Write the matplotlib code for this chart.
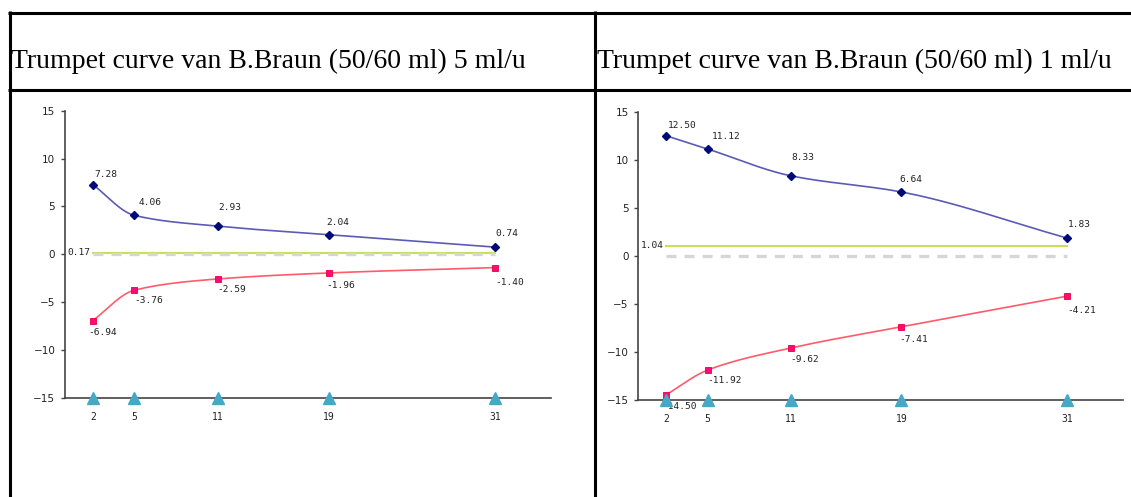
import numpy as np
import matplotlib
matplotlib.use("Agg")
import matplotlib.pyplot as plt
from matplotlib.lines import Line2D

plt.rcParams["lines.scale_dashes"] = False

# ---- data ---------------------------------------------------------------
hours = [2, 5, 11, 19, 31]
x_labels = ["2", "5", "11", "19", "31"]

titles = [
    "Trumpet curve van B.Braun (50/60 ml) 5 ml/u",
    "Trumpet curve van B.Braun (50/60 ml) 1 ml/u",
]
max_dev_5 = [7.28, 4.06, 2.93, 2.04, 0.74]
min_dev_5 = [-6.94, -3.76, -2.59, -1.96, -1.40]
mean_5 = 0.17

max_dev_1 = [12.50, 11.12, 8.33, 6.64, 1.83]
min_dev_1 = [-14.50, -11.92, -9.62, -7.41, -4.21]
mean_1 = 1.04

y_ticks = [-15, -10, -5, 0, 5, 10, 15]

# ---- layout -------------------------------------------------------------
W, H = 1131, 497
fig = plt.figure(figsize=(W / 100, H / 100), dpi=100)


def fx(px):
    return px / W


def fy(py):
    return 1 - py / H


# label offsets in pixels per point index (upper / lower series)
up_off = [(2, 10), (4, 12.5), (1, 18.5), (-2, 12), (0, 13.5)]
lo_off = [(-4, -11.5), (-0.5, -10), (0, -11), (-2, -13), (0, -14.5)]

BLUE_LINE = "#5b5bb5"
BLUE_MARK = "#000a78"
RED_LINE = "#ff5b6b"
RED_MARK = "#ff0a7a"
GREEN = "#c6e05a"
GREY = "#d6d6d6"
TRI = "#45a9c6"
LABEL_FONT = "DejaVu Sans Mono"
LABEL_SIZE = 6.8


def monotone_curve(xs, ys, n=60):
    """Fritsch-Carlson monotone cubic through the points."""
    xs = np.asarray(xs, float)
    ys = np.asarray(ys, float)
    h = np.diff(xs)
    d = np.diff(ys) / h
    m = np.zeros_like(ys)
    m[0], m[-1] = d[0], d[-1]
    for i in range(1, len(xs) - 1):
        if d[i - 1] * d[i] <= 0:
            m[i] = 0
        else:
            w1 = 2 * h[i] + h[i - 1]
            w2 = h[i] + 2 * h[i - 1]
            m[i] = (w1 + w2) / (w1 / d[i - 1] + w2 / d[i])
    out_x, out_y = [], []
    for i in range(len(xs) - 1):
        t = np.linspace(0, 1, n)
        h00 = 2 * t**3 - 3 * t**2 + 1
        h10 = t**3 - 2 * t**2 + t
        h01 = -2 * t**3 + 3 * t**2
        h11 = t**3 - t**2
        yy = h00 * ys[i] + h10 * h[i] * m[i] + h01 * ys[i + 1] + h11 * h[i] * m[i + 1]
        out_x.append(xs[i] + t * h[i])
        out_y.append(yy)
    return np.concatenate(out_x), np.concatenate(out_y)


def draw_chart(ax, upper, lower, mean):
    ax.set_xlim(0, 35)
    ax.set_ylim(-15, 15)
    for s in ("top", "right"):
        ax.spines[s].set_visible(False)
    for s in ("left", "bottom"):
        ax.spines[s].set_color("#444444")
        ax.spines[s].set_linewidth(1.2)
    ax.set_yticks(y_ticks)
    ax.set_yticklabels([str(v).replace("-", "\u2212") for v in y_ticks])
    ax.set_xticks(hours)
    ax.set_xticklabels(x_labels, family=LABEL_FONT)
    ax.tick_params(axis="y", direction="out", length=3, width=1, color="#444444",
                   labelsize=7.5, pad=4, labelcolor="#222222")
    ax.tick_params(axis="x", length=0, labelsize=7, pad=10, labelcolor="#222222")

    # mean and zero reference lines
    ax.plot([hours[0], hours[-1]], [mean, mean], color=GREEN, lw=1.5, zorder=2)
    ax.plot([hours[0], hours[-1]], [0, 0], color=GREY, lw=2.4,
            linestyle=(0, (7.2, 5.8)), zorder=2.5)
    ax.annotate(f"{mean:.2f}", (hours[0], mean), xytext=(-2, 0),
                textcoords="offset pixels", ha="right", va="center",
                fontsize=LABEL_SIZE, family=LABEL_FONT, color="#222222")

    # max / min deviation curves
    cx, cy = monotone_curve(hours, upper)
    ax.plot(cx, cy, color=BLUE_LINE, lw=1.2, zorder=3)
    ax.plot(hours, upper, linestyle="none", marker="D", markersize=4,
            color=BLUE_MARK, zorder=4)
    cx, cy = monotone_curve(hours, lower)
    ax.plot(cx, cy, color=RED_LINE, lw=1.2, zorder=3)
    ax.plot(hours, lower, linestyle="none", marker="s", markersize=3.8,
            markerfacecolor=RED_MARK, markeredgecolor="#e8003c",
            markeredgewidth=0.6, zorder=4)

    for i, (xv, yv) in enumerate(zip(hours, upper)):
        ax.annotate(f"{yv:.2f}", (xv, yv), xytext=up_off[i], textcoords="offset pixels",
                    ha="left", va="center", fontsize=LABEL_SIZE, family=LABEL_FONT,
                    color="#222222", zorder=5)
    for i, (xv, yv) in enumerate(zip(hours, lower)):
        ax.annotate(f"{yv:.2f}", (xv, yv), xytext=lo_off[i], textcoords="offset pixels",
                    ha="left", va="center", fontsize=LABEL_SIZE, family=LABEL_FONT,
                    color="#222222", zorder=5)

    # sample time markers on the axis
    ax.plot(hours, [-15] * len(hours), linestyle="none", marker="^", markersize=8,
            color=TRI, clip_on=False, zorder=6)


ax1 = fig.add_axes([fx(65), fy(397.7), fx(550.7) - fx(65), fy(110.7) - fy(397.7)])
draw_chart(ax1, max_dev_5, min_dev_5, mean_5)

ax2 = fig.add_axes([fx(638.3), fy(399.7), fx(1122.7) - fx(638.3), fy(111.7) - fy(399.7)])
draw_chart(ax2, max_dev_1, min_dev_1, mean_1)

# table borders and header cells
border = dict(color="black", lw=2.2, solid_capstyle="butt")
fig.add_artist(Line2D([fx(8), 1], [fy(12.5), fy(12.5)], transform=fig.transFigure, **border))
fig.add_artist(Line2D([fx(8), 1], [fy(89.5), fy(89.5)], transform=fig.transFigure, **border))
fig.add_artist(Line2D([fx(9.6), fx(9.6)], [fy(11.3), 0], transform=fig.transFigure, **border))
fig.add_artist(Line2D([fx(594.5), fx(594.5)], [fy(11.3), 0], transform=fig.transFigure, **border))

fig.text(fx(11), fy(61), titles[0], family="Liberation Serif", fontsize=20,
         ha="left", va="center", color="black")
fig.text(fx(597), fy(61), titles[1], family="Liberation Serif", fontsize=20,
         ha="left", va="center", color="black")

fig.savefig("out.png", dpi=100)
